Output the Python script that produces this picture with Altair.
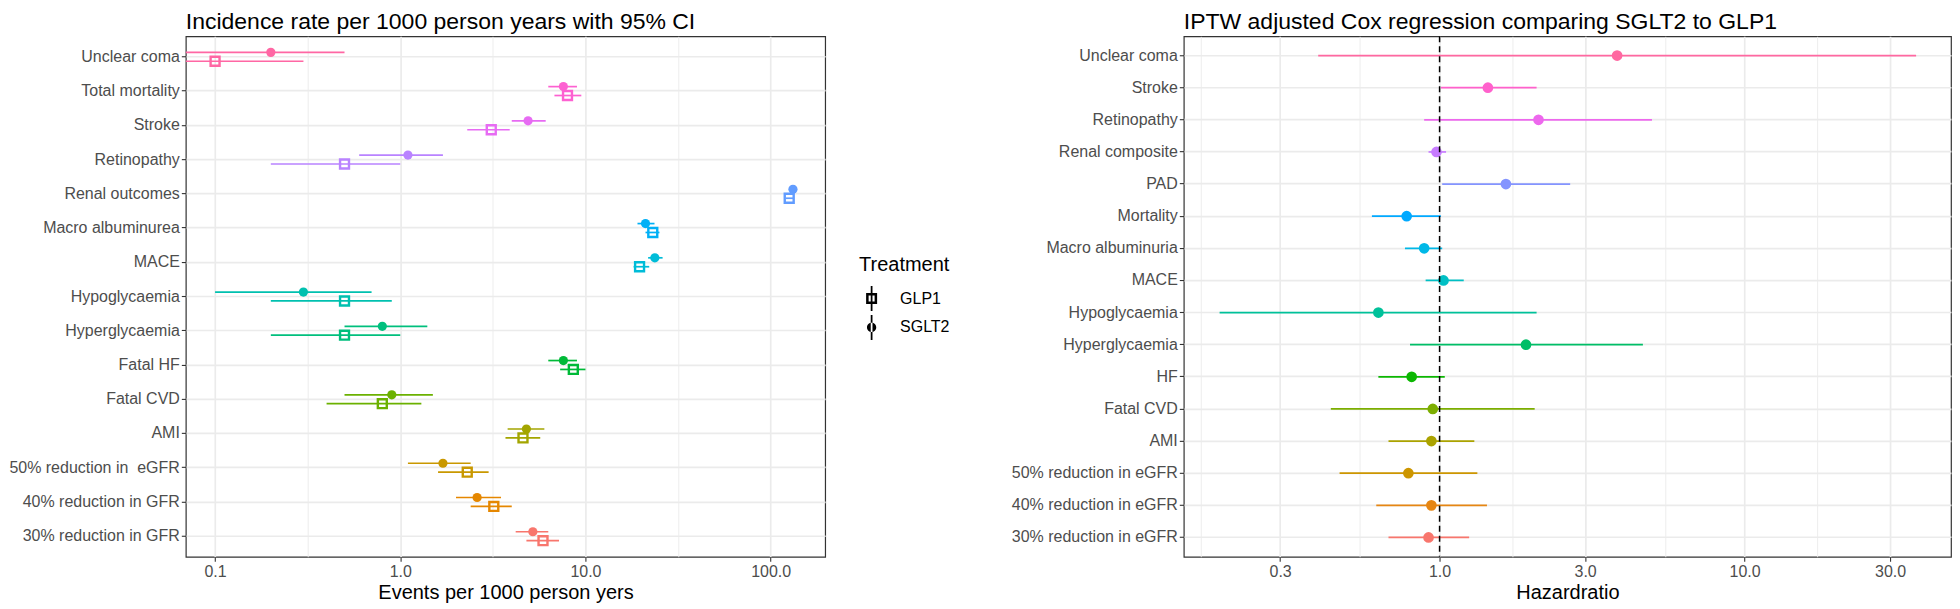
import altair as alt
import pandas as pd

# ---------------- Left panel: incidence rates (top to bottom) ----------------
cats_left = ["Unclear coma", "Total mortality", "Stroke", "Retinopathy", "Renal outcomes",
             "Macro albuminurea", "MACE", "Hypoglycaemia", "Hyperglycaemia", "Fatal HF",
             "Fatal CVD", "AMI", "50% reduction in  eGFR", "40% reduction in GFR",
             "30% reduction in GFR"]
sglt2_rate = [0.2, 7.6, 4.9, 1.1, 132, 21.1, 23.7, 0.3, 0.8, 7.6, 0.9, 4.8, 1.7, 2.6, 5.2]
sglt2_lo = [0.0, 6.3, 4.0, 0.6, 126, 19.1, 21.8, 0.1, 0.5, 6.3, 0.5, 3.8, 1.1, 2.0, 4.2]
sglt2_hi = [0.5, 9.0, 6.1, 1.7, 138, 23.6, 26.1, 0.7, 1.4, 9.0, 1.5, 6.0, 2.4, 3.5, 6.3]
glp1_rate = [0.1, 8.0, 3.1, 0.5, 126, 23.1, 19.6, 0.5, 0.5, 8.6, 0.8, 4.6, 2.3, 3.2, 5.9]
glp1_lo = [0.0, 6.8, 2.3, 0.2, 121, 21.1, 18.2, 0.2, 0.2, 7.3, 0.4, 3.7, 1.6, 2.4, 4.8]
glp1_hi = [0.3, 9.5, 3.9, 1.0, 132, 25.1, 22.1, 0.9, 1.0, 10.0, 1.3, 5.7, 3.0, 4.0, 7.2]
colors_left = ["#FF67A4", "#FD61D1", "#E76BF3", "#B983FF", "#619CFF", "#00B0F6", "#00BCD8",
               "#00C0AF", "#00BF7D", "#00BA38", "#6BB100", "#A3A500", "#C99800", "#E58700",
               "#F8766D"]
treatments = ["GLP1", "SGLT2"]

# ---------------- Right panel: hazard ratios (top to bottom) ----------------
cats_right = ["Unclear coma", "Stroke", "Retinopathy", "Renal composite", "PAD", "Mortality",
              "Macro albuminuria", "MACE", "Hypoglycaemia", "Hyperglycaemia", "HF", "Fatal CVD",
              "AMI", "50% reduction in eGFR", "40% reduction in eGFR", "30% reduction in eGFR"]
hr = [3.82, 1.44, 2.11, 0.977, 1.65, 0.78, 0.89, 1.03, 0.63, 1.92, 0.81, 0.95, 0.94, 0.79, 0.94, 0.92]
hr_lo = [0.40, 1.01, 0.89, 0.92, 1.02, 0.60, 0.77, 0.90, 0.19, 0.80, 0.63, 0.44, 0.68, 0.47, 0.62, 0.68]
hr_hi = [36.5, 2.08, 4.97, 1.05, 2.68, 1.01, 1.02, 1.20, 2.08, 4.64, 1.04, 2.05, 1.30, 1.33, 1.43, 1.25]
colors_right = ["#FF68A1", "#FF61CC", "#ED68ED", "#C77CFF", "#8494FF", "#00A9FF", "#00B8E7",
                "#00BFC4", "#00C19A", "#00BE67", "#0CB702", "#7CAE00", "#ABA300", "#CD9600",
                "#E68613", "#F8766D"]
ref_line = [1.0]

# axis breaks
left_major = [0.1, 1, 10, 100]
right_major = [0.3, 1, 3, 10, 30]
left_domain = [0.0695, 197]
right_domain = [0.145, 47.5]


def geo_minor(majors, lo, hi):
    out = []
    for a, b in zip(majors[:-1], majors[1:]):
        out.append((a * b) ** 0.5)
    first = majors[0] ** 1.5 / majors[1] ** 0.5
    last = majors[-1] ** 1.5 / majors[-2] ** 0.5
    for v in (first, last):
        if lo <= v <= hi:
            out.append(v)
    return out


left_minor = geo_minor(left_major, *left_domain)
right_minor = geo_minor(right_major, *right_domain)

df_left = pd.DataFrame({
    "Category": cats_left * 2,
    "Treatment": ["SGLT2"] * len(cats_left) + ["GLP1"] * len(cats_left),
    "rate": sglt2_rate + glp1_rate,
    "lo": sglt2_lo + glp1_lo,
    "hi": sglt2_hi + glp1_hi,
})
df_right = pd.DataFrame({"Category": cats_right, "hr": hr, "lo": hr_lo, "hi": hr_hi})
df_ref = pd.DataFrame({"x": ref_line})


def x_axis(majors, minors, title):
    test = "indexof([%s], datum.value) >= 0" % ",".join(repr(float(v)) for v in majors)
    return alt.Axis(
        values=sorted([float(v) for v in majors + minors]),
        format=".1f",
        labelExpr=f"{test} ? datum.label : ''",
        grid=True,
        gridWidth={"condition": {"test": test, "value": 1.7}, "value": 0.9},
        tickOpacity={"condition": {"test": test, "value": 1}, "value": 0},
        title=title,
        labelFontSize=16,
    )


def y_axis(extent):
    # keep doubled spaces visible in SVG text
    return alt.Axis(bandPosition=0.5, grid=True, gridWidth=1.7, labelFontSize=16,
                    labelExpr="replace(datum.label, '  ', ' \u00a0')",
                    minExtent=extent, maxExtent=extent, labelLimit=400, title=None)


W_L, W_R, H = 640, 768, 521

# ---------------- left chart ----------------
xs_l = alt.Scale(type="log", domain=left_domain)
xa_l = x_axis(left_major, left_minor, "Events per 1000 person yers")
ys_l = alt.Scale(type="band", paddingInner=0, paddingOuter=0.1)
ya_l = y_axis(176)
col_l = alt.Color("Category:N", scale=alt.Scale(domain=cats_left, range=colors_left), legend=None)
base_l = alt.Chart(df_left).transform_calculate(lo_c=f"max(datum.lo, {left_domain[0]})")


def ypos_l(bp):
    return alt.Y("Category:N", sort=cats_left, scale=ys_l, axis=ya_l, bandPosition=bp)


layers_l = []
for trt, bp in (("SGLT2", 0.37), ("GLP1", 0.63)):
    layers_l.append(
        base_l.transform_filter(f"datum.Treatment == '{trt}'").mark_rule(strokeWidth=1.7).encode(
            x=alt.X("lo_c:Q", scale=xs_l, axis=xa_l), x2="hi:Q", y=ypos_l(bp), color=col_l)
    )
layers_l.append(
    base_l.transform_filter("datum.Treatment == 'SGLT2'")
    .mark_point(filled=True, shape="circle", size=85, opacity=1)
    .encode(x=alt.X("rate:Q", scale=xs_l, axis=xa_l), y=ypos_l(0.37), color=col_l)
)
layers_l.append(
    base_l.transform_filter("datum.Treatment == 'GLP1'")
    .mark_point(filled=False, shape="square", size=80, strokeWidth=2.4, opacity=1)
    .encode(x=alt.X("rate:Q", scale=xs_l, axis=xa_l), y=ypos_l(0.63), color=col_l)
)

# legend keys drawn as filled outlines: vertical bar + hollow square / vertical bar + disc
path_glp1 = ("M-0.07,-1H0.07V1H-0.07Z "
             "M-0.44,-0.44H0.44V0.44H-0.44Z M-0.24,-0.24V0.24H0.24V-0.24Z")
path_sglt2 = ("M-0.07,-1H0.07V1H-0.07Z "
              "M-0.37,0A0.37,0.37 0 1,0 0.37,0A0.37,0.37 0 1,0 -0.37,0Z")
layers_l.append(
    base_l.mark_point(filled=True, opacity=0, color="black", size=625)
    .encode(
        x=alt.X("rate:Q", scale=xs_l, axis=xa_l),
        y=ypos_l(0.5),
        shape=alt.Shape("Treatment:N", scale=alt.Scale(domain=treatments, range=[path_glp1, path_sglt2]),
                        legend=alt.Legend(title="Treatment", orient="none", legendX=674, legendY=219,
                                          titleFontSize=20, titleFontWeight="normal", titleColor="black",
                                          labelFontSize=16, labelColor="black", symbolOpacity=1,
                                          symbolSize=625, symbolFillColor="black",
                                          symbolStrokeWidth=0, rowPadding=4, titlePadding=11,
                                          labelOffset=16, padding=0)),
    )
)
left = alt.layer(*layers_l).properties(
    width=W_L, height=H, title="Incidence rate per 1000 person years with 95% CI")

# ---------------- right chart ----------------
xs_r = alt.Scale(type="log", domain=right_domain)
xa_r = x_axis(right_major, right_minor, "Hazardratio")
ys_r = alt.Scale(type="band", paddingInner=0, paddingOuter=0.1)
ya_r = y_axis(182)
col_r = alt.Color("Category:N", scale=alt.Scale(domain=cats_right, range=colors_right), legend=None)
y_r = alt.Y("Category:N", sort=cats_right, scale=ys_r, axis=ya_r, bandPosition=0.5)

rules_r = alt.Chart(df_right).mark_rule(strokeWidth=1.7).encode(
    x=alt.X("lo:Q", scale=xs_r, axis=xa_r), x2="hi:Q", y=y_r, color=col_r)
pts_r = alt.Chart(df_right).mark_point(filled=True, shape="circle", size=115, opacity=1).encode(
    x=alt.X("hr:Q", scale=xs_r, axis=xa_r), y=y_r, color=col_r)
vline = alt.Chart(df_ref).mark_rule(color="black", strokeDash=[6, 4], strokeWidth=1.5).encode(
    x=alt.X("x:Q", scale=xs_r, axis=xa_r))
right = alt.layer(rules_r, pts_r, vline).properties(
    width=W_R, height=H, title="IPTW adjusted Cox regression comparing SGLT2 to GLP1")

chart = (
    alt.hconcat(left, right, spacing=50)
    .resolve_scale(color="independent", x="independent", y="independent", shape="independent")
    .properties(padding={"left": 0, "top": 1, "right": 0, "bottom": 0}, background="white")
    .configure(font="Liberation Sans")
    .configure_view(stroke="#333333", strokeWidth=1.2)
    .configure_axis(labelColor="#4D4D4D", tickColor="#333333", tickSize=4.5, tickWidth=1.1,
                    gridColor="#EBEBEB", titleFontSize=20, titleFontWeight="normal",
                    titleColor="black", labelPadding=2, titlePadding=3, domain=False)
    .configure_title(fontSize=23, fontWeight="normal", anchor="start", frame="group",
                     color="black", offset=2)
)

chart.save("out.html", embed_options={"renderer": "svg", "actions": False})
